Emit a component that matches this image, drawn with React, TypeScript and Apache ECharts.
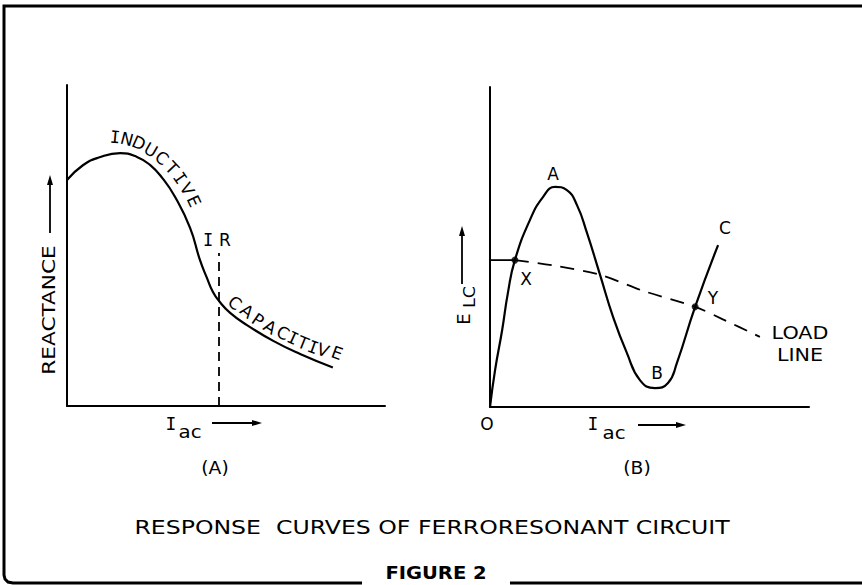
import React, { useEffect, useRef } from "react";
import * as echarts from "echarts";

// Panel (A): reactance vs I_ac (arbitrary units 0..10)
const reactanceCurve: [number, number][] = [
  [0, 7.04], [0.5, 7.5], [1.0, 7.74], [1.67, 7.88], [2.2, 7.76], [2.61, 7.51],
  [3.0, 7.1], [3.4, 6.51], [3.87, 5.55], [4.18, 4.55], [4.4, 3.99], [4.59, 3.55],
  [4.78, 3.27], [5.13, 2.9], [5.66, 2.52], [6.5, 2.02], [7.33, 1.62], [8.36, 1.2],
];
const resonanceIR: [number, number][] = [[4.78, 0], [4.78, 4.77]];

// Panel (B): E_LC vs I_ac
const ferroCurve: [number, number][] = [
  [0, 0], [0.16, 1.16], [0.38, 2.4], [0.56, 3.56], [0.78, 4.59], [1.25, 5.84],
  [1.66, 6.56], [2.04, 6.88], [2.41, 6.78], [2.73, 6.3], [3.04, 5.44], [3.45, 4.13],
  [3.86, 2.81], [4.29, 1.69], [4.7, 0.84], [5.17, 0.59], [5.58, 0.75], [5.86, 1.38],
  [6.43, 3.13], [7.15, 5.06],
];
const loadLineSolid: [number, number][] = [[0, 4.59], [0.78, 4.59]];
const loadLineDashed: [number, number][] = [
  [0.78, 4.59], [2.0, 4.42], [3.45, 4.13], [4.8, 3.63], [6.43, 3.13], [7.3, 2.74], [8.46, 2.19],
];
const operatingPoints: [number, number][] = [[0.78, 4.59], [6.43, 3.13]];

const pointLabels = ["A", "B", "C", "X", "Y"];
const panelLabels = ["(A)", "(B)"];
const titleText = "RESPONSE  CURVES OF FERRORESONANT CIRCUIT";
const figureText = "FIGURE 2";

const FONT = '"DejaVu Sans", sans-serif';
const MONO = '"DejaVu Sans Mono", monospace';

function txt(text: string, x: number, y: number, size: number, extra: any = {}, rot = 0, sx = 1) {
  return {
    type: "text",
    x,
    y,
    rotation: rot,
    scaleX: sx,
    style: {
      text,
      fontSize: size,
      fontFamily: FONT,
      fill: "#000",
      align: "center",
      verticalAlign: "middle",
      ...extra,
    },
  };
}

function arrow(x1: number, y1: number, x2: number, y2: number) {
  const dx = x2 - x1, dy = y2 - y1;
  const len = Math.hypot(dx, dy);
  const ux = dx / len, uy = dy / len;
  const hl = 10, hw = 3;
  const bx = x2 - ux * hl, by = y2 - uy * hl;
  return [
    { type: "line", shape: { x1, y1, x2: bx, y2: by }, style: { stroke: "#000", lineWidth: 1.8 } },
    {
      type: "polygon",
      shape: { points: [[x2, y2], [bx - uy * hw, by + ux * hw], [bx + uy * hw, by - ux * hw]] },
      style: { fill: "#000" },
    },
  ];
}

function curveText(letters: string, pos: [number, number, number][], size: number) {
  return letters.split("").map((ch, i) =>
    txt(ch, pos[i][0], pos[i][1], size, ch === "I" ? { fontFamily: MONO } : {}, (-pos[i][2] * Math.PI) / 180)
  );
}

export default function App() {
  const ref = useRef<HTMLDivElement>(null);
  useEffect(() => {
    if (!ref.current) return;
    const chart = echarts.init(ref.current, undefined, { renderer: "svg" });
    const axisCommon = {
      type: "value",
      min: 0,
      max: 10,
      axisLine: { show: true, onZero: false, lineStyle: { color: "#000", width: 2 } },
      axisTick: { show: false },
      axisLabel: { show: false },
      splitLine: { show: false },
    };
    const black = "#000";
    const graphics: any[] = [
      // frame
      {
        type: "polyline",
        shape: { points: [[862, 6], [4, 6], [4, 575], [5, 579], [8, 582], [13, 583], [362, 583]] },
        style: { stroke: black, lineWidth: 3, fill: null },
      },
      { type: "line", shape: { x1: 510, y1: 583, x2: 862, y2: 583 }, style: { stroke: black, lineWidth: 3 } },
      txt(figureText, 436, 573, 17, { fontWeight: "bold" }, 0, 1.15),
      txt(titleText, 432, 527, 20, {}, 0, 1.18),
      txt(panelLabels[0], 215, 468, 17, {}, 0, 1.1),
      txt(panelLabels[1], 637, 468, 17, {}, 0, 1.1),
      // panel A labels
      txt("REACTANCE", 49, 310, 18, {}, Math.PI / 2, 1.2),
      ...arrow(50, 233, 50, 175),
      txt("I", 171, 423, 18, { fontFamily: MONO }),
      txt("ac", 190, 431, 18, {}, 0, 1.1),
      ...arrow(212, 423, 262, 423),
      txt("I", 208, 240, 17, { fontFamily: MONO }),
      txt("R", 225, 240, 17),
      ...curveText("INDUCTIVE", [
        [115, 137, 5], [127, 139, 15], [139, 143, 24], [151, 150, 30], [162, 158, 40],
        [172, 168, 46], [180, 178, 55], [187, 189, 60], [194, 201, 65],
      ], 17),
      ...curveText("CAPACITIVE", [
        [235, 303, 40], [247, 311, 38], [258, 320, 35], [270, 327, 32], [283, 333, 28],
        [293, 338, 25], [303, 343, 22], [313, 347, 20], [323, 350, 20], [337, 353, 20],
      ], 17),
      // panel B labels
      txt("E", 463, 319, 18, {}, Math.PI / 2),
      txt("LC", 469, 297, 16, {}, Math.PI / 2, 1.1),
      ...arrow(462, 284, 462, 226),
      txt("O", 487, 424, 17),
      txt("I", 593, 423, 18, { fontFamily: MONO }),
      txt("ac", 614, 432, 18, {}, 0, 1.1),
      ...arrow(638, 425, 686, 425),
      txt(pointLabels[0], 553, 174, 17),
      txt(pointLabels[1], 657, 373, 17),
      txt(pointLabels[2], 725, 228, 17),
      txt(pointLabels[3], 526, 279, 17),
      txt(pointLabels[4], 713, 298, 17),
      txt("LOAD", 800, 333, 18, {}, 0, 1.15),
      txt("LINE", 800, 355, 18, {}, 0, 1.15),
    ];
    chart.setOption({
      animation: false,
      backgroundColor: "#fff",
      grid: [
        { left: 67, top: 85, width: 318, height: 321 },
        { left: 490, top: 87, width: 319, height: 320 },
      ],
      xAxis: [
        { ...axisCommon, gridIndex: 0 },
        { ...axisCommon, gridIndex: 1 },
      ],
      yAxis: [
        { ...axisCommon, gridIndex: 0 },
        { ...axisCommon, gridIndex: 1 },
      ],
      series: [
        {
          type: "line", xAxisIndex: 0, yAxisIndex: 0, data: reactanceCurve, smooth: 0.5,
          showSymbol: false, lineStyle: { color: black, width: 2.2 },
        },
        {
          type: "line", xAxisIndex: 0, yAxisIndex: 0, data: resonanceIR,
          showSymbol: false, lineStyle: { color: black, width: 1.8, type: [9, 6] },
        },
        {
          type: "line", xAxisIndex: 1, yAxisIndex: 1, data: ferroCurve, smooth: 0.5,
          showSymbol: false, lineStyle: { color: black, width: 2.2 },
        },
        {
          type: "line", xAxisIndex: 1, yAxisIndex: 1, data: loadLineSolid,
          showSymbol: false, lineStyle: { color: black, width: 1.8 },
        },
        {
          type: "line", xAxisIndex: 1, yAxisIndex: 1, data: loadLineDashed, smooth: 0.3,
          showSymbol: false, lineStyle: { color: black, width: 1.8, type: [14, 9] },
        },
        {
          type: "scatter", xAxisIndex: 1, yAxisIndex: 1, data: operatingPoints,
          symbolSize: 7, itemStyle: { color: black },
        },
      ],
      graphic: graphics,
    });
    return () => chart.dispose();
  }, []);
  return (
    <div
      ref={ref}
      style={{ position: "fixed", left: 0, top: 0, width: 862, height: 585, background: "#fff" }}
    />
  );
}
